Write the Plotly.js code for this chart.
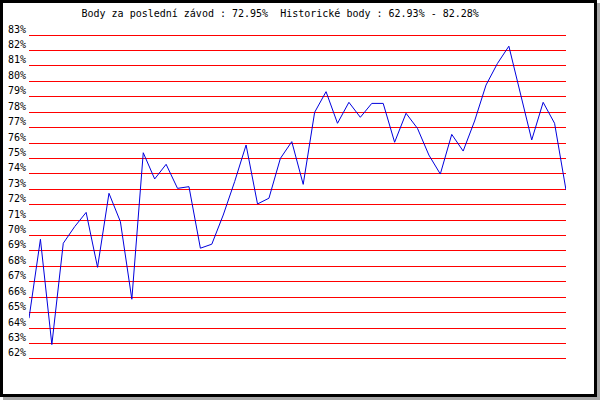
<!DOCTYPE html>
<html>
<head>
<meta charset="utf-8">
<script src="https://cdn.plot.ly/plotly-3.0.1.min.js"></script>
<style>
  html, body { margin: 0; padding: 0; background: #ffffff; }
  #frame {
    position: absolute; left: 0; top: 0;
    width: 591px; height: 391px;
    border: 3px solid #000000;
    box-shadow: 3px 3px 0 #a8a8a8;
    background: #ffffff;
  }
  #chart { width: 591px; height: 391px; }
</style>
</head>
<body>
<div id="frame"><div id="chart"></div></div>
<script>
const races = [1,2,3,4,5,6,7,8,9,10,11,12,13,14,15,16,17,18,19,20,21,22,23,24,
               25,26,27,28,29,30,31,32,33,34,35,36,37,38,39,40,41,42,43,44,45,46,47,48];
const points = [64.64, 69.76, 62.93, 69.5, 70.58, 71.5, 67.94, 72.74, 70.9, 65.87,
                75.37, 73.67, 74.62, 73.06, 73.17, 69.18, 69.44, 71.33, 73.5, 75.87,
                72.05, 72.42, 75.0, 76.09, 73.32, 77.99, 79.33, 77.28, 78.64, 77.67,
                78.57, 78.57, 76.05, 77.93, 76.95, 75.22, 73.99, 76.56, 75.48, 77.43,
                79.76, 81.16, 82.28, 79.22, 76.2, 78.64, 77.28, 72.95];
const yTicks = [62,63,64,65,66,67,68,69,70,71,72,73,74,75,76,77,78,79,80,81,82,83];
const yTickLabels = yTicks.map(v => v + '%');
const titleText = 'Body za poslední závod : 72.95%  Historické body : 62.93% - 82.28%';

const font = { family: 'DejaVu Sans Mono, monospace', size: 10, color: '#000000' };

Plotly.newPlot('chart', [{
  x: races,
  y: points,
  type: 'scatter',
  mode: 'lines',
  line: { color: '#0000dd', width: 1 },
  hoverinfo: 'skip'
}], {
  width: 591,
  height: 391,
  margin: { l: 26, r: 28, t: 28.914, b: 31.914 },
  paper_bgcolor: '#ffffff',
  plot_bgcolor: '#ffffff',
  showlegend: false,
  font: font,
  title: {
    text: titleText,
    font: font,
    xref: 'container', yref: 'container',
    x: 0.469, xanchor: 'center',
    y: 0.972, yanchor: 'middle'
  },
  xaxis: {
    range: [1, 48],
    showgrid: false, zeroline: false, showline: false,
    showticklabels: false, ticks: ''
  },
  yaxis: {
    range: [61.8, 83.2],
    tickvals: yTicks,
    ticktext: yTickLabels,
    showgrid: true, gridcolor: '#ff0000', gridwidth: 1,
    zeroline: false, showline: false, ticks: '',
    tickfont: font,
    ticklabelshift: -6,
    ticklabelstandoff: 2
  }
}, { staticPlot: true, displayModeBar: false });
</script>
</body>
</html>
